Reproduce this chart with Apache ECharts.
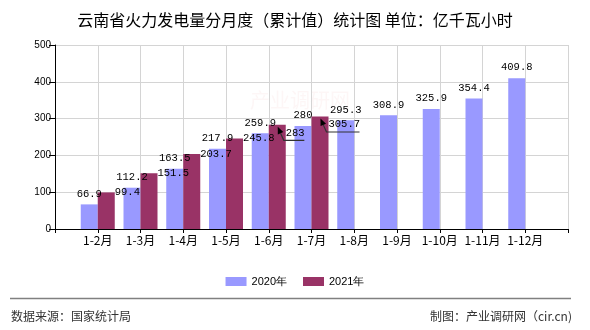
<!DOCTYPE html>
<html><head><meta charset="utf-8">
<script src="https://cdn.jsdelivr.net/npm/echarts@6/dist/echarts.min.js"></script>
<style>html,body{margin:0;padding:0;background:#fff}#c{width:590px;height:330px}</style>
</head><body><div id="c"></div>
<script>
const categories = ['1-2月','1-3月','1-4月','1-5月','1-6月','1-7月','1-8月','1-9月','1-10月','1-11月','1-12月'];
const values2020 = [66.9,112.2,163.5,217.9,259.9,280,295.3,308.9,325.9,354.4,409.8];
const values2021 = [99.4,151.5,203.7,245.8,283,305.7,null,null,null,null,null];
const seriesNames = ['2020年','2021年'];
const yMin = 0, yMax = 500, yStep = 100;
const calloutIdx = [4,5];

const BW = 17;
const CJK = '"Noto Sans CJK SC","Noto Sans",sans-serif';
const MONO = '"Liberation Mono","DejaVu Sans Mono",monospace';
const axisData = [''].concat(categories, ['']);

const d2020 = [null].concat(values2020.map(v => v), [null]);
const d2021 = [null].concat(values2021.map((v, i) => {
  if (v == null) return null;
  if (calloutIdx.indexOf(i) >= 0) return {value: v, label: {offset: [0, 8]}};
  return v;
}), [null]);

const chart = echarts.init(document.getElementById('c'), null, {renderer: 'canvas'});
const option = {
  animation: false,
  backgroundColor: '#fff',
  title: {
    text: '云南省火力发电量分月度（累计值）统计图 单位：亿千瓦小时',
    left: 'center', top: 7,
    textStyle: {fontFamily: CJK, fontSize: 16, fontWeight: 'normal', color: '#000'}
  },
  legend: {
    data: seriesNames, left: 'center', top: 271,
    icon: 'rect', itemWidth: 21, itemHeight: 9, itemGap: 16,
    textStyle: {fontFamily: '"Liberation Sans",Arial,sans-serif', fontSize: 11, color: '#000'}
  },
  grid: {left: 55, right: 22, top: 45, bottom: 101, containLabel: false},
  xAxis: {
    type: 'category', data: axisData, boundaryGap: false,
    axisLine: {lineStyle: {color: '#000', width: 1}},
    axisTick: {show: true, length: 4, interval: 0, lineStyle: {color: '#000'}},
    axisLabel: {interval: 0, fontFamily: CJK, fontSize: 12, color: '#000', margin: 5},
    splitLine: {show: true, interval: 0, lineStyle: {color: '#d4d4d4'}}
  },
  yAxis: {
    type: 'value', min: yMin, max: yMax, interval: yStep,
    axisLine: {show: true, lineStyle: {color: '#000'}},
    axisTick: {show: true, length: 6, lineStyle: {color: '#000'}},
    axisLabel: {fontFamily: '"Liberation Sans",Arial,sans-serif', fontSize: 10, color: '#000', margin: 4},
    splitLine: {show: true, lineStyle: {color: '#d4d4d4'}}
  },
  series: [
    {
      name: seriesNames[0], type: 'bar', data: d2020, barWidth: BW, barGap: '0%',
      itemStyle: {color: '#9999FF'},
      label: {show: true, position: 'top', distance: 5, fontFamily: MONO, fontSize: 10.5, color: '#000'}
    },
    {
      name: seriesNames[1], type: 'bar', data: d2021, barWidth: BW, barGap: '0%',
      itemStyle: {color: '#993366'},
      label: {show: true, position: ['100%', 0], align: 'left', verticalAlign: 'middle',
        fontFamily: MONO, fontSize: 10.5, color: '#000'}
    }
  ]
};
chart.setOption(option);

// decorations: watermark, footer, callout arrows
const gfx = [
  {type: 'text', left: 250, top: 90, z: -1, silent: true,
   style: {text: '产业调研网', font: '20px ' + CJK, fill: 'rgba(225,110,110,0.06)'}},
  {type: 'line', shape: {x1: 10, y1: 298.5, x2: 571, y2: 298.5}, style: {stroke: '#808080', lineWidth: 1.5}},
  {type: 'text', left: 11, top: 310, style: {text: '数据来源：国家统计局', font: '12px ' + CJK, fill: '#333'}},
  {type: 'text', right: 18, top: 310, style: {text: '制图：产业调研网（cir.cn)', font: '12px ' + CJK, fill: '#333'}}
];
calloutIdx.forEach(i => {
  const v = values2021[i];
  const p = chart.convertToPixel({xAxisIndex: 0, yAxisIndex: 0}, [i + 1, v]);
  const right = p[0] + BW, top = p[1];
  const tip = [right - 8, top + 2];
  const elbow = [right - 2, top + 15.5];
  const tw = String(v).length * 6.2;
  const end = [right + tw, top + 15.5];
  const dx = tip[0] - elbow[0], dy = tip[1] - elbow[1];
  const L = Math.sqrt(dx * dx + dy * dy);
  const ux = dx / L, uy = dy / L, nx = -uy, ny = ux;
  const base = [tip[0] - ux * 7, tip[1] - uy * 7];
  gfx.push({type: 'polyline', z: 10, shape: {points: [end, elbow, base]},
    style: {stroke: '#333', lineWidth: 1.2, fill: null}});
  gfx.push({type: 'polygon', z: 10, shape: {points: [tip, [base[0] + nx * 3, base[1] + ny * 3], [base[0] - nx * 3, base[1] - ny * 3]]},
    style: {fill: '#000'}});
});
chart.setOption({graphic: gfx});
</script>
</body></html>
